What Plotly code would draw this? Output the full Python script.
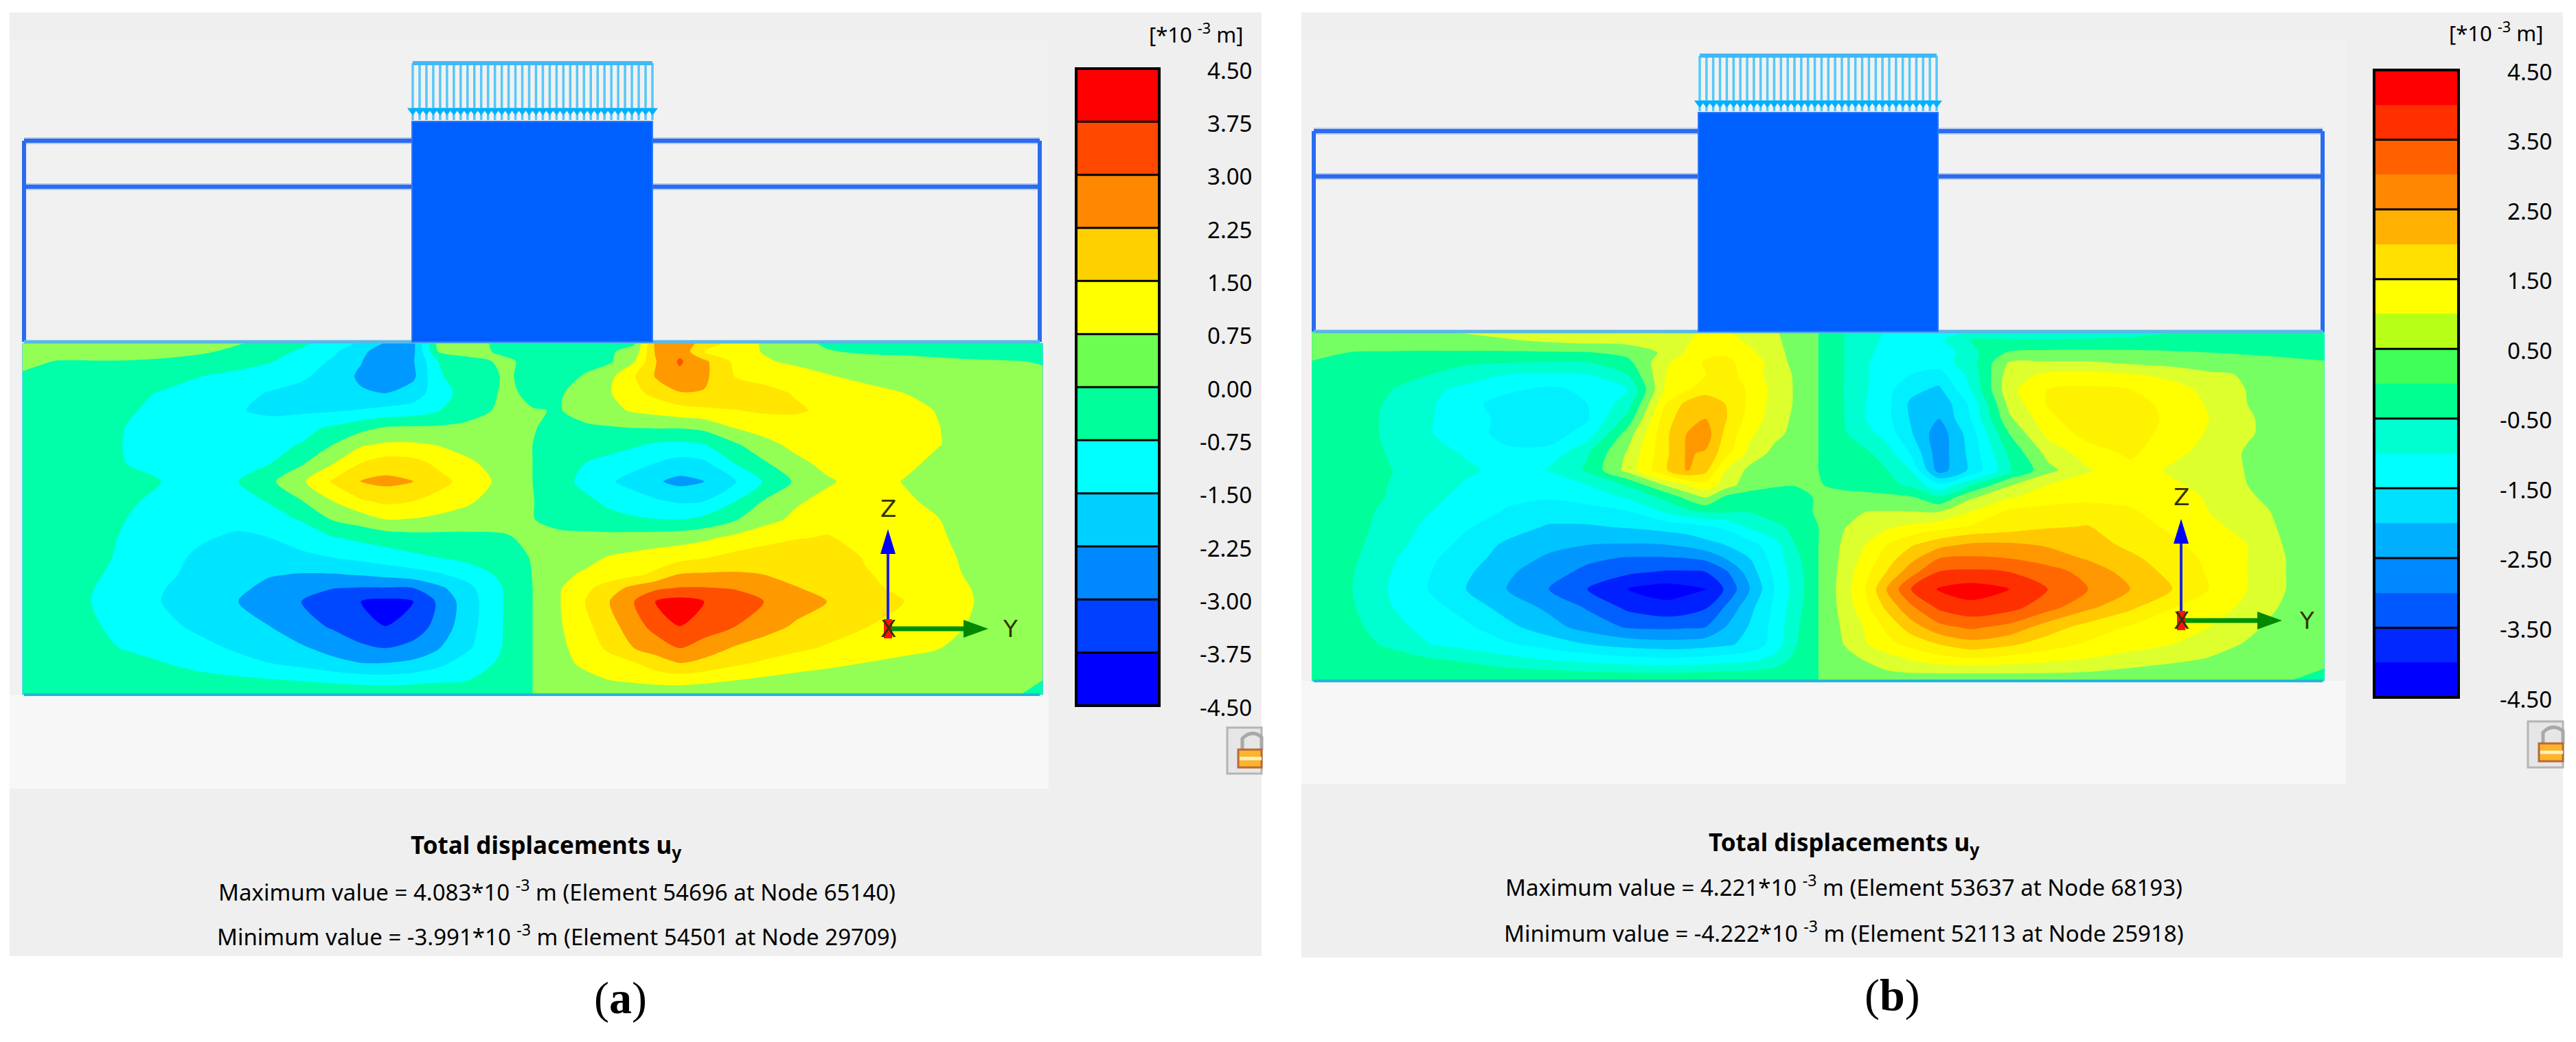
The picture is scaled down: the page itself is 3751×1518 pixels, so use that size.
import plotly.graph_objects as go

# --- Legend levels and colours ---
labels_a = ["4.50", "3.75", "3.00", "2.25", "1.50", "0.75", "0.00", "-0.75", "-1.50", "-2.25", "-3.00", "-3.75", "-4.50"]
labels_b = ["4.50", "3.50", "2.50", "1.50", "0.50", "-0.50", "-1.50", "-2.50", "-3.50", "-4.50"]

# top to bottom
legend_colors_a = ["#ff0000", "#ff4800", "#ff8800", "#ffd000", "#ffff00", "#6cff50",
                   "#00ff9a", "#00ffff", "#00d0ff", "#0088ff", "#0040ff", "#0000ff"]
field_colors_a = ["#ff0000", "#ff5000", "#ff9900", "#ffe500", "#ffff00", "#93ff55",
                  "#00ffa8", "#00ffff", "#00e5ff", "#0099ff", "#0048ff", "#0000ff"]
legend_colors_b = ["#ff0000", "#ff3000", "#ff6000", "#ff8800", "#ffb000", "#ffe000", "#ffff00", "#b8ff18", "#40ff58",
                   "#00ff90", "#00ffd0", "#00ffff", "#00e0ff", "#00b0ff", "#0088ff", "#0058ff", "#0028ff", "#0000ff"]
field_colors_b = ["#ff0000", "#ff3000", "#ff6800", "#ff9800", "#ffc800", "#fff200", "#ffff00", "#ddff2e", "#76ff62",
                  "#00ff9a", "#00ffd0", "#00ffff", "#00f0ff", "#00c4ff", "#0098ff", "#0060ff", "#0020ff", "#0000ff"]

# --- u_y field of panel (a), *10^-3 m ---
col_a = [32, 80, 130, 180, 230, 285, 340, 385, 430, 475, 515, 550, 590, 625, 665, 720, 760, 800, 835, 870, 905, 935, 970, 1005, 1050, 1090, 1135, 1180, 1235, 1290, 1340, 1390, 1440, 1488]
row_a = [55, 90, 130, 190, 260, 330, 400, 470, 545, 620, 700, 775, 850, 930, 1000, 1055, 1110, 1210, 1300, 1360, 1430, 1490]
uy_a = [
    [.4, .4, .4, .35, .3, .2, .05, -.2, -.6, -1.1, -1.6, -2.3, -2.4, .2, .15, -.1, -.2, -.2, -.2, -.2, -.1, 2.4, 2.7, 2.0, 1.2, .65, .2, -.1, -.25, -.3, -.3, -.3, -.3, -.3],
    [.35, .3, .3, .25, .2, .1, -.15, -.5, -.85, -1.35, -2.1, -2.6, -2.4, 0, .2, -.1, -.2, -.2, -.2, -.1, .3, 2.3, 2.8, 1.5, 1.1, .7, .3, .05, -.1, -.1, -.15, -.2, -.2, -.2],
    [.2, -.03, -.03, -.03, -.08, -.25, -.45, -.7, -1.1, -1.6, -2.2, -3.0, -2.3, -.75, -.2, .1, -.15, -.2, -.2, -.1, .7, 2.2, 3.1, 2.4, 1.3, .85, .6, .45, .3, .15, .1, .05, .02, -.02],
    [-.1, -.15, -.2, -.3, -.45, -.73, -.95, -1.15, -1.4, -1.75, -2.4, -2.7, -2.4, -.85, -.35, .05, -.1, -.25, .05, .55, 1.45, 2.3, 2.8, 2.4, 1.45, 1.3, 1.1, .8, .55, .35, .2, .1, .08, .05],
    [-.1, -.2, -.35, -.55, -.8, -1.05, -1.3, -1.55, -1.7, -1.9, -2.15, -2.25, -1.9, -1.1, -.45, .1, -.1, -.05, .3, .7, 1.3, 1.7, 2.2, 2.2, 1.9, 1.7, 1.45, 1.25, 1.0, .75, .45, .3, .2, .1],
    [-.1, -.25, -.45, -.7, -.85, -1.1, -1.45, -1.65, -1.65, -1.58, -1.45, -1.3, -1.15, -.8, -.3, .15, .02, -.02, .25, .55, .85, 1.0, 1.2, 1.35, 1.48, 1.6, 1.6, 1.35, 1.1, .9, .72, .5, .3, .15],
    [-.1, -.25, -.5, -.76, -1.05, -1.25, -1.35, -1.2, -.95, -.65, -.25, .05, .1, .1, .15, .1, .02, -.1, -.1, -.05, .02, .05, .05, .2, .8, 1.05, 1.15, 1.2, 1.1, .95, .76, .5, .3, .15],
    [-.1, -.25, -.5, -.78, -1.1, -1.2, -1.1, -.9, -.72, 0, .65, .85, .85, .72, .4, .15, 0, -.15, -.3, -.45, -.65, -.85, -.9, -.78, -.1, .5, .95, 1.15, 1.15, 1.0, .77, .5, .3, .15],
    [-.1, -.25, -.5, -.75, -1.05, -1.1, -1.0, -.78, -.1, .7, 1.5, 1.85, 1.75, 1.35, .95, .3, 0, -.35, -.75, -1.0, -1.25, -1.5, -1.8, -1.65, -.7, -.1, .55, .95, 1.1, .9, .6, .4, .25, .12],
    [-.05, -.2, -.35, -.55, -.75, -1.1, -.75, -.15, .6, 1.6, 2.3, 2.45, 2.25, 1.75, 1.25, .5, 0, -.5, -.95, -1.4, -1.8, -2.15, -2.45, -2.25, -1.5, -.7, .1, .65, 1.05, .72, .45, .3, .2, .1],
    [-.1, -.25, -.45, -.65, -.9, -1.1, -1.0, -.7, -.03, .75, 1.4, 1.65, 1.5, 1.25, .9, .3, .02, -.3, -.6, -.9, -1.15, -1.4, -1.6, -1.5, -.75, .05, .65, .95, 1.1, .85, .6, .4, .25, .12],
    [-.1, -.3, -.5, -.75, -.95, -1.15, -1.25, -1.0, -.7, .05, .35, .75, .7, .55, .4, .15, .02, -.2, -.35, -.55, -.65, -.72, -.75, -.55, -.05, .5, .9, 1.25, 1.2, 1.0, .76, .5, .3, .15],
    [-.1, -.35, -.6, -.8, -1.1, -1.4, -1.65, -1.5, -1.15, -.8, -.6, -.45, -.3, -.25, -.2, -.05, .1, .15, .2, .25, .3, .35, .45, .6, .95, 1.2, 1.45, 1.55, 1.3, 1.05, .8, .6, .35, .2],
    [-.1, -.35, -.6, -.85, -1.2, -1.65, -1.95, -1.85, -1.7, -1.5, -1.3, -1.1, -.9, -.75, -.55, -.2, .03, .3, .55, .8, .95, 1.1, 1.25, 1.45, 1.75, 1.95, 2.0, 1.9, 1.45, 1.2, .9, .6, .35, .2],
    [-.1, -.35, -.65, -.95, -1.35, -1.7, -2.0, -2.2, -2.3, -2.3, -2.2, -2.05, -1.85, -1.6, -1.25, -.55, .02, .6, .85, 1.1, 1.35, 1.65, 2.3, 2.35, 2.35, 2.25, 2.0, 1.8, 1.55, 1.3, .95, .65, .4, .2],
    [-.1, -.4, -.72, -1.05, -1.45, -1.85, -2.1, -2.45, -2.7, -2.98, -3.05, -3.05, -3.0, -2.45, -1.75, -.7, 0, .72, 1.3, 1.9, 2.5, 2.85, 3.05, 3.05, 2.95, 2.65, 2.3, 2.0, 1.65, 1.35, 1.05, .72, .45, .25],
    [-.1, -.45, -.75, -1.1, -1.5, -1.87, -2.25, -2.6, -3.0, -3.4, -3.75, -3.95, -3.75, -2.9, -1.9, -.72, 0, .75, 1.5, 2.25, 3.0, 3.75, 4.05, 3.75, 3.35, 3.0, 2.6, 2.25, 1.85, 1.5, 1.1, .75, .45, .25],
    [-.1, -.4, -.65, -1.0, -1.3, -1.65, -1.95, -2.25, -2.7, -3.1, -3.5, -3.75, -3.45, -2.75, -1.85, -.7, 0, .7, 1.3, 1.95, 2.7, 3.25, 3.75, 3.4, 3.0, 2.6, 2.15, 1.85, 1.53, 1.2, .95, .68, .4, .2],
    [-.05, -.3, -.55, -.8, -1.0, -1.3, -1.6, -1.9, -2.15, -2.5, -2.85, -3.0, -2.75, -2.3, -1.65, -.68, 0, .6, 1.1, 1.65, 2.25, 2.6, 3.0, 2.65, 2.15, 1.85, 1.65, 1.42, 1.2, .98, .77, .45, .25, .1],
    [-.03, -.2, -.35, -.5, -.72, -1.0, -1.3, -1.5, -1.75, -2.05, -2.25, -2.25, -2.1, -1.75, -1.15, -.6, 0, .55, .9, 1.2, 1.45, 1.85, 2.25, 2.05, 1.65, 1.4, 1.15, .95, .74, .55, .35, .2, .12, .05],
    [-.02, -.1, -.2, -.3, -.4, -.5, -.6, -.7, -.8, -.95, -1.1, -1.15, -1.05, -.9, -.8, -.3, 0, .3, .55, .75, .9, 1.05, 1.1, .95, .76, .6, .45, .35, .25, .2, .15, .1, .05, 0],
    [-.05, -.05, -.05, -.05, -.05, -.05, -.05, -.05, -.05, -.05, -.05, -.05, -.05, -.05, -.05, -.05, 0, .1, .1, .1, .1, .1, .1, .1, .1, .1, .1, .1, .1, .1, .1, .08, .05, -.1],
]

# --- u_y field of panel (b), *10^-3 m ---
col_b = [10, 68, 118, 175, 230, 288, 348, 403, 460, 515, 545, 572, 600, 635, 670, 700, 733, 770, 800, 830, 865, 905, 950, 1005, 1060, 1118, 1178, 1238, 1290, 1345, 1400, 1455]
row_b = [65, 100, 150, 190, 240, 300, 360, 420, 480, 560, 630, 690, 740, 800, 860, 935, 990, 1045, 1115, 1190, 1270, 1340, 1400, 1455, 1490]
uy_b = [
    [.3, .3, .35, .45, .55, .7, .95, 1.05, 1.1, 1.1, .9, 1.1, 1.05, .8, .55, .3, 0, -.5, -.7, -1.05, -1.15, -1.15, -1.0, -1.05, -1.1, -1.05, -.85, -.55, -.35, -.3, -.25, -.2],
    [.25, .25, .25, .3, .35, .45, .6, .7, .7, .65, .95, 1.15, 1.2, .9, .6, .3, 0, -.5, -.8, -1.1, -1.25, -1.1, -.5, -.4, -.4, -.35, -.3, -.2, -.15, -.15, -.1, -.1],
    [.15, -.02, -.03, -.05, -.05, -.06, -.05, -.03, .15, .6, 1.05, 1.4, 1.45, 1.1, .7, .3, 0, -.5, -.9, -1.15, -1.4, -1.4, -.65, .05, .1, .1, .08, .03, 0, -.03, -.05, -.1],
    [-.03, -.1, -.2, -.3, -.42, -.47, -.52, -.5, -.15, .9, 1.3, 1.55, 1.6, 1.35, .75, .35, 0, -.5, -.95, -1.2, -1.35, -1.25, -.7, .52, .55, .55, .4, .3, .2, .1, .05, .02],
    [-.03, -.12, -.3, -.48, -.72, -1.0, -1.05, -1.02, -.5, 1.0, 1.2, 1.5, 1.7, 1.3, .75, .45, 0, -.5, -.95, -1.25, -1.5, -1.7, -.85, .75, 1.1, 1.15, 1.05, .85, .6, .45, .3, .15],
    [-.03, -.2, -.45, -.85, -1.15, -1.4, -1.6, -1.4, -1.05, 1.1, 1.45, 1.75, 1.95, 1.4, .85, .45, 0, -.52, -.95, -1.35, -1.85, -2.1, -1.0, .85, 1.5, 1.6, 1.5, 1.2, .85, .48, .3, .15],
    [-.03, -.25, -.55, -.9, -1.35, -1.7, -1.75, -1.5, -.75, 1.5, 2.15, 2.4, 2.0, 1.4, .8, .45, 0, -.5, -1.0, -1.35, -2.1, -2.4, -1.4, .65, 1.55, 1.85, 1.75, 1.3, .95, .5, .3, .15],
    [-.03, -.25, -.58, -.95, -1.25, -1.65, -1.8, -1.55, -.35, 1.8, 2.3, 2.5, 2.05, 1.3, .75, .4, 0, -.5, -1.0, -1.35, -2.05, -2.5, -1.5, .4, 1.35, 1.9, 1.85, 1.35, 1.0, .55, .3, .15],
    [-.03, -.25, -.58, -.95, -1.3, -1.65, -1.75, -1.3, .2, 1.9, 2.5, 2.75, 1.9, 1.1, .65, .35, 0, -.45, -.8, -1.2, -1.95, -2.8, -1.75, 0, 1.15, 1.7, 1.75, 1.3, .95, .55, .3, .15],
    [-.03, -.25, -.52, -.8, -1.05, -1.4, -1.35, -.55, .55, 1.9, 2.55, 2.45, 1.7, .85, .35, .15, 0, -.1, -.4, -.75, -1.55, -2.8, -1.85, -.4, .65, 1.25, 1.6, 1.15, .8, .45, .3, .15],
    [-.05, -.25, -.47, -.7, -.92, -1.15, -.98, -.42, .65, 1.95, 2.55, 2.15, 1.0, .35, .25, .1, 0, -.1, -.25, -.47, -1.0, -2.75, -1.9, -.6, .35, .95, 1.35, .9, .7, .48, .3, .15],
    [-.05, -.25, -.5, -.75, -1.05, -1.3, -1.25, -1.0, -.45, .55, 1.0, 1.35, .75, .2, .05, .02, .02, -.08, -.2, -.38, -.6, -1.4, -.55, .45, 1.0, 1.25, 1.35, 1.1, .8, .5, .3, .15],
    [-.05, -.28, -.52, -.85, -1.15, -1.4, -1.45, -1.3, -.95, -.35, .15, .55, -.1, -.2, -.2, -.15, .05, .1, .15, .15, .05, -.45, .4, .95, 1.2, 1.35, 1.4, 1.2, .95, .55, .35, .15],
    [-.05, -.33, -.6, -.97, -1.25, -1.55, -1.75, -1.7, -1.55, -.95, -.65, -.45, -.45, -.48, -.3, -.15, .05, .3, .5, .52, .52, .5, 1.0, 1.6, 1.75, 1.75, 1.55, 1.3, 1.0, .65, .4, .15],
    [-.05, -.35, -.65, -1.1, -1.45, -1.75, -2.05, -2.05, -1.95, -1.8, -1.7, -1.55, -1.4, -.9, -.6, -.4, 0, .48, .7, .9, 1.1, 1.3, 1.55, 1.75, 1.95, 2.02, 1.75, 1.4, 1.15, .8, .4, .15],
    [-.05, -.38, -.75, -1.25, -1.65, -2.1, -2.35, -2.5, -2.55, -2.52, -2.4, -2.2, -2.0, -1.7, -1.2, -.5, 0, .6, 1.0, 1.5, 1.95, 2.35, 2.6, 2.6, 2.45, 2.2, 1.9, 1.6, 1.3, 1.0, .45, .2],
    [-.05, -.42, -.88, -1.38, -1.8, -2.2, -2.6, -2.9, -3.05, -3.05, -3.02, -2.9, -2.5, -2.0, -1.3, -.65, 0, .65, 1.15, 1.75, 2.35, 3.0, 3.08, 3.0, 2.75, 2.45, 2.1, 1.75, 1.4, 1.0, .5, .2],
    [-.05, -.47, -.95, -1.45, -1.9, -2.4, -2.8, -3.12, -3.4, -3.55, -3.55, -3.5, -3.1, -2.25, -1.4, -.75, 0, .7, 1.35, 2.0, 2.8, 3.52, 3.6, 3.5, 3.25, 2.8, 2.3, 1.85, 1.45, 1.0, .5, .22],
    [-.05, -.5, -1.0, -1.5, -2.0, -2.5, -3.0, -3.5, -4.0, -4.22, -4.12, -4.0, -3.45, -2.5, -1.5, -.8, 0, .75, 1.5, 2.5, 3.5, 4.05, 4.22, 4.0, 3.5, 3.0, 2.5, 2.0, 1.5, 1.0, .5, .25],
    [-.05, -.45, -.95, -1.3, -1.7, -2.2, -2.6, -3.05, -3.6, -3.85, -3.75, -3.55, -2.95, -2.15, -1.4, -.72, 0, .7, 1.35, 2.1, 2.9, 3.6, 3.85, 3.68, 3.2, 2.6, 2.1, 1.52, 1.25, .88, .4, .2],
    [-.05, -.35, -.8, -1.15, -1.4, -1.85, -2.3, -2.7, -3.05, -3.1, -3.05, -3.0, -2.5, -1.95, -1.35, -.6, 0, .6, 1.05, 1.6, 2.25, 2.85, 3.1, 2.85, 2.25, 1.8, 1.45, 1.2, 1.0, .62, .3, .15],
    [-.03, -.3, -.57, -.98, -1.2, -1.43, -1.7, -2.0, -2.2, -2.3, -2.28, -2.2, -2.1, -1.85, -1.3, -.55, 0, .52, .95, 1.35, 1.65, 2.0, 2.3, 2.1, 1.75, 1.42, 1.2, 1.0, .72, .45, .25, .12],
    [-.02, -.15, -.28, -.45, -.6, -.85, -1.05, -1.2, -1.35, -1.42, -1.4, -1.35, -1.25, -1.15, -.85, -.35, 0, .3, .55, .75, 1.05, 1.3, 1.45, 1.3, 1.15, .98, .8, .62, .47, .3, .15, .05],
    [-.01, -.05, -.1, -.15, -.22, -.3, -.38, -.45, -.5, -.52, -.5, -.48, -.42, -.4, -.3, -.12, 0, .12, .25, .45, .52, .55, .55, .55, .53, .48, .35, .25, .18, .1, .05, -.02],
    [-.05, -.05, -.05, -.05, -.05, -.05, -.05, -.05, -.05, -.05, -.05, -.05, -.05, -.05, -.05, -.05, 0, .05, .05, .05, .05, .05, .05, .05, .05, .05, .05, .05, .05, .05, .02, -.2],
]


def stepped(colors_top_down):
    colors = colors_top_down[::-1]
    n = len(colors)
    scale = []
    for i, c in enumerate(colors):
        scale += [[i / n, c], [(i + 1) / n, c]]
    return scale


fig = go.Figure()

def page_x(cols, x0):
    return [x0 + c / 0.98 for c in cols]

def page_y(rows, y0):
    return [y0 + r / 2.8 for r in rows]


def panel(col, row, uy, x0, y0, colors, step):
    fig.add_trace(go.Contour(
        x=page_x(col, x0), y=page_y(row, y0), z=uy,
        zmin=-4.5, zmax=4.5, colorscale=stepped(colors), showscale=False,
        autocontour=False,
        contours=dict(start=-4.5 + step, end=4.5 - step, size=step, coloring="fill", showlines=False),
        line=dict(width=0, smoothing=0.8), hoverinfo="skip",
    ))


def color_bar(colors, labels, x0, x1, y0, y1, label_x, every):
    n = len(colors)
    h = (y1 - y0) / n
    edges = [y0 + i * h for i in range(n + 1)]
    mids = [4.5 - 9 * (i + .5) / n for i in range(n)]
    fig.add_trace(go.Heatmap(x=[x0, x1], y=edges, z=[[m] for m in mids], zmin=-4.5, zmax=4.5,
                             colorscale=stepped(colors), showscale=False, hoverinfo="skip"))
    for i in range(0, n + 1, every):
        fig.add_shape(type="line", x0=x0, x1=x1, y0=edges[i], y1=edges[i], line=dict(color="black", width=3))
    fig.add_shape(type="rect", x0=x0, x1=x1, y0=y0, y1=y1, line=dict(color="black", width=4))
    gap = (y1 - y0) / (len(labels) - 1)
    for i, lab in enumerate(labels):
        fig.add_annotation(x=label_x, y=y0 + 2 + i * gap, text=lab, showarrow=False, xanchor="right",
                           font=dict(family="Noto Sans", size=33, color="black"))


def background(x0, x1, y0, y1, x_in, y_field, y_in):
    fig.add_shape(type="rect", x0=x0, x1=x1, y0=y0, y1=y1, fillcolor="#efefef", line_width=0, layer="below")
    fig.add_shape(type="rect", x0=x0, x1=x_in, y0=y0 + 40, y1=y_field, fillcolor="#f1f1f1", line_width=0, layer="below")
    fig.add_shape(type="rect", x0=x0, x1=x_in, y0=y_field, y1=y_in, fillcolor="#f7f7f7", line_width=0, layer="below")


def structure(left, right, top, mid, ground, bld0, bld1, bld_top, field_bottom):
    blue = "#2a6cf0"
    for y in (top, mid):
        fig.add_shape(type="line", x0=left, x1=right, y0=y, y1=y, line=dict(color="#b8c8f0", width=10))
        fig.add_shape(type="line", x0=left, x1=right, y0=y, y1=y, line=dict(color=blue, width=6))
    for x in (left, right):
        fig.add_shape(type="line", x0=x, x1=x, y0=top, y1=ground, line=dict(color=blue, width=6))
    fig.add_shape(type="line", x0=left, x1=right, y0=ground, y1=ground, line=dict(color="#58b8e8", width=5))
    fig.add_shape(type="line", x0=left, x1=right, y0=field_bottom, y1=field_bottom, line=dict(color="#20b8d8", width=4))
    fig.add_shape(type="rect", x0=bld0, x1=bld1, y0=bld_top, y1=ground, fillcolor="#0060ff",
                  line=dict(color="#2a78f8", width=2))


def load(x0, x1, y_top, y_head, y_tip):
    xs, ys, hx, hy = [], [], [], []
    n = 35
    for i in range(n + 1):
        x = x0 + (x1 - x0) * i / n
        xs += [x, x, None]
        ys += [y_top, y_tip, None]
        hx.append(x)
        hy.append(y_head)
    fig.add_trace(go.Scatter(x=xs, y=ys, mode="lines", line=dict(color="#55c8f8", width=3.5), hoverinfo="skip"))
    fig.add_trace(go.Scatter(x=hx, y=hy, mode="markers", hoverinfo="skip",
                             marker=dict(symbol="triangle-down", size=14, color="#00b0ff")))
    fig.add_shape(type="line", x0=x0, x1=x1, y0=y_top, y1=y_top, line=dict(color="#40b8f8", width=6))


def triad(ox, oy, z_top, y_end, z_lab, y_lab):
    fig.add_shape(type="line", x0=ox, x1=ox, y0=oy, y1=z_top + 30, line=dict(color="#2020e0", width=4))
    fig.add_shape(type="path", path=f"M {ox} {z_top} L {ox - 11} {z_top + 36} L {ox + 11} {z_top + 36} Z",
                  fillcolor="#0000ff", line_width=0)
    fig.add_shape(type="line", x0=ox, x1=y_end - 30, y0=oy, y1=oy, line=dict(color="#009000", width=7))
    fig.add_shape(type="path", path=f"M {y_end} {oy} L {y_end - 36} {oy - 13} L {y_end - 36} {oy + 13} Z",
                  fillcolor="#008800", line_width=0)
    fig.add_shape(type="rect", x0=ox - 6, x1=ox + 6, y0=oy - 14, y1=oy + 14, fillcolor="#ff1010", line_width=0)
    for x, y, t in ((ox, z_lab, "Z"), (y_lab, oy, "Y"), (ox, oy, "X")):
        fig.add_annotation(x=x, y=y, text=t, showarrow=False,
                           font=dict(family="DejaVu Sans", size=34, color="#333300"))


def lock(x0, x1, y0, y1):
    fig.add_shape(type="rect", x0=x0, x1=x1, y0=y0, y1=y1, fillcolor="#e6e6e6", line=dict(color="#b4b4b4", width=3))
    fig.add_shape(type="path", path=f"M {x0 + 22} {y0 + 32} L {x0 + 22} {y0 + 16} Q {x0 + 36} {y0 + 2} {x1} {y0 + 14} L {x1} {y0 + 32}",
                  line=dict(color="#a8a8a8", width=5))
    fig.add_shape(type="rect", x0=x0 + 16, x1=x1, y0=y0 + 32, y1=y1 - 9, fillcolor="#fdb32a", line=dict(color="#b86a38", width=3))
    fig.add_shape(type="line", x0=x0 + 18, x1=x1, y0=y0 + 45, y1=y0 + 45, line=dict(color="#fff2c0", width=5))


def caption(cx, title_x, y_title, y_max, y_min, max_text, min_text, tag_y, tag_x, tag):
    f = dict(family="Noto Sans", size=33, color="black")
    fig.add_annotation(x=title_x, y=y_title, text="<b>Total displacements u<sub>y</sub></b>", showarrow=False,
                       font=dict(family="Noto Sans", size=35, color="black"))
    fig.add_annotation(x=cx, y=y_max, text=max_text, showarrow=False, font=f)
    fig.add_annotation(x=cx, y=y_min, text=min_text, showarrow=False, font=f)
    fig.add_annotation(x=tag_x, y=tag_y, text=f"(<b>{tag}</b>)", showarrow=False,
                       font=dict(family="Liberation Serif", size=66, color="black"))


# panel (a)
background(14, 1837, 18, 1393, 1527, 1012, 1149)
panel(col_a, row_a, uy_a, 0, 480, field_colors_a, 0.75)
structure(35, 1514, 205, 272, 498, 600, 950, 177, 1012)
load(601, 950, 92, 161, 175)
triad(1293, 916, 771, 1439, 741, 1471)
color_bar(legend_colors_a, labels_a, 1567, 1688, 100, 1028, 1825, 1)
fig.add_annotation(x=1812, y=48, text="[*10 <sup>-3</sup> m]", showarrow=False, xanchor="right",
                   font=dict(family="Noto Sans", size=31, color="black"))
lock(1787, 1837, 1060, 1127)
caption(811, 795, 1232, 1297, 1362,
        "Maximum value = 4.083*10 <sup>-3</sup> m (Element 54696 at Node 65140)",
        "Minimum value = -3.991*10 <sup>-3</sup> m (Element 54501 at Node 29709)",
        1454, 903, "a")

# panel (b)
background(1895, 3732, 18, 1395, 3416, 992, 1142)
panel(col_b, row_b, uy_b, 1900, 460, field_colors_b, 0.5)
structure(1913, 3382, 191, 257, 483, 2473, 2822, 164, 992)
load(2475, 2820, 81, 150, 162)
triad(3176, 904, 756, 3323, 724, 3359)
color_bar(legend_colors_b, labels_b, 3457, 3580, 102, 1016, 3718, 2)
fig.add_annotation(x=3705, y=46, text="[*10 <sup>-3</sup> m]", showarrow=False, xanchor="right",
                   font=dict(family="Noto Sans", size=31, color="black"))
lock(3681, 3732, 1051, 1118)
caption(2685, 2685, 1228, 1290, 1357,
        "Maximum value = 4.221*10 <sup>-3</sup> m (Element 53637 at Node 68193)",
        "Minimum value = -4.222*10 <sup>-3</sup> m (Element 52113 at Node 25918)",
        1450, 2755, "b")

fig.update_xaxes(range=[0, 3751], visible=False, fixedrange=True)
fig.update_yaxes(range=[1518, 0], visible=False, fixedrange=True)
fig.update_layout(width=3751, height=1518, margin=dict(l=0, r=0, t=0, b=0), showlegend=False,
                  paper_bgcolor="white", plot_bgcolor="white")

fig.write_html("out.html", config={"displayModeBar": False},
               post_script="document.body.style.margin='0';document.body.style.overflow='hidden';")
